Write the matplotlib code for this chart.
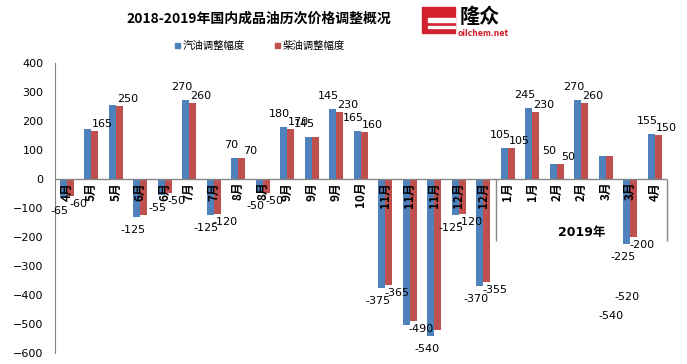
import matplotlib
matplotlib.use("Agg")
import matplotlib.pyplot as plt
from matplotlib.patches import Rectangle

plt.rcParams['font.family'] = ['DejaVu Sans', 'Noto Sans CJK SC']

# =========================
# DATA
# =========================
categories = ['4月', '5月', '5月', '6月', '6月', '7月', '7月', '8月', '8月',
              '9月', '9月', '9月', '10月', '11月', '11月', '11月', '12月', '12月',
              '1月', '1月', '2月', '2月', '3月', '3月', '4月']
gasoline = [-65, 170, 255, -130, -55, 270, -125, 70, -50, 180, 145, 240, 165,
            -375, -505, -540, -125, -370, 105, 245, 50, 270, 80, -225, 155]
diesel = [-60, 165, 250, -125, -50, 260, -120, 70, -50, 170, 145, 230, 160,
          -365, -490, -520, -120, -355, 105, 230, 50, 260, 80, -200, 150]

# labels as they appear in the picture ('' = no label)
gasoline_labels = ['-65', '', '', '-125', '-55', '270', '-125', '70', '-50', '180', '145', '145', '165',
                   '-375', '', '-540', '-125', '-370', '105', '245', '50', '270', '', '-225', '155']
diesel_labels = ['-60', '165', '250', '', '-50', '260', '-120', '70', '-50', '170', '', '230', '160',
                 '-365', '-490', '', '-120', '-355', '105', '230', '50', '260', '', '-200', '150']
# stray labels sitting below the 2019 March bars
stray_labels = ['-520', '-540']
stray_pos = [(22.86, -407), (22.2, -472)]

title = '2018-2019年国内成品油历次价格调整概况'
series_names = ['汽油调整幅度', '柴油调整幅度']
year_label = '2019年'

BLUE = '#4F81BD'
RED = '#C0504D'
GREY = '#868686'

# =========================
# PLOT
# =========================
W, H = 687, 364
fig = plt.figure(figsize=(W / 100, H / 100), dpi=100)
ax = fig.add_axes([54.5 / W, 1 - 353 / H, (667 - 54.5) / W, (353 - 62.7) / H])

x = list(range(len(categories)))
bw = 0.29
xb = [i - bw / 2 for i in x]
xr = [i + bw / 2 for i in x]
ax.bar(xb, gasoline, width=bw, color=BLUE, zorder=2)
ax.bar(xr, diesel, width=bw, color=RED, zorder=2)

ax.set_xlim(-0.5, len(categories) - 0.5)
ax.set_ylim(-600, 400)
ax.set_yticks(range(-600, 401, 100))
ax.tick_params(axis='y', length=0, pad=8, labelsize=8)
ax.set_xticks([])
for s in ['top', 'right', 'bottom']:
    ax.spines[s].set_visible(False)
ax.spines['left'].set_color(GREY)
ax.axhline(0, color=GREY, lw=1, zorder=3)

# data labels
for xi, v, t in zip(xb, gasoline, gasoline_labels):
    if t:
        ax.annotate(t, (xi, v), xytext=(-4, 13 if v > 0 else -13), textcoords='offset pixels',
                    ha='center', va='center', fontsize=8, zorder=5)
for xi, v, t in zip(xr, diesel, diesel_labels):
    if t:
        ax.annotate(t, (xi, v), xytext=(8, 7 if v > 0 else -8), textcoords='offset pixels',
                    ha='center', va='center', fontsize=8, zorder=5)
for t, (px, py) in zip(stray_labels, stray_pos):
    ax.text(px, py, t, ha='center', va='center', fontsize=8)

# category labels just under the zero line
for i, c in enumerate(categories):
    ax.annotate(c, (i, 0), xytext=(0, -3), textcoords='offset pixels', rotation=90,
                ha='center', va='top', fontsize=8.5, fontweight='bold',
                family=['Noto Sans CJK SC'], zorder=6)

# 2019 group bracket
ax.vlines([17.5, 24.5], -215, 0, color=GREY, lw=1, zorder=3, clip_on=False)
ax.text(21, -184, year_label, ha='center', va='center', fontsize=9, fontweight='bold',
        family=['DejaVu Sans', 'Noto Sans CJK SC'])

# title
fig.text(258.5 / W, 1 - 18.5 / H, title, ha='center', va='center', fontsize=10,
         fontweight='bold', family=['Noto Sans CJK SC'])

# legend
for (sx, tx), col, name in zip([(175, 183), (275, 283)], [BLUE, RED], series_names):
    fig.patches.append(Rectangle((sx / W, 1 - 48 / H), 5 / W, 5 / H,
                                 transform=fig.transFigure, color=col))
    fig.text(tx / W, 1 - 45.5 / H, name, ha='left', va='center', fontsize=7.5,
             family=['Noto Sans CJK SC'])

# logo
fig.patches.append(Rectangle((422 / W, 1 - 33 / H), 33 / W, 26 / H,
                             transform=fig.transFigure, color='#D2202F'))
fig.patches.append(Rectangle((428 / W, 1 - 22 / H), 27 / W, 4 / H,
                             transform=fig.transFigure, color='white'))
fig.patches.append(Rectangle((428 / W, 1 - 28 / H), 27 / W, 2 / H,
                             transform=fig.transFigure, color='white'))
fig.text(480 / W, 1 - 16.5 / H, '隆众', ha='center', va='center', fontsize=14.5,
         fontweight='bold', family=['Noto Sans CJK SC'])
fig.text(483 / W, 1 - 33 / H, 'oilchem.net', ha='center', va='center', fontsize=5.5,
         fontweight='bold', color='#D2202F')

fig.savefig('out.png', dpi=100)
